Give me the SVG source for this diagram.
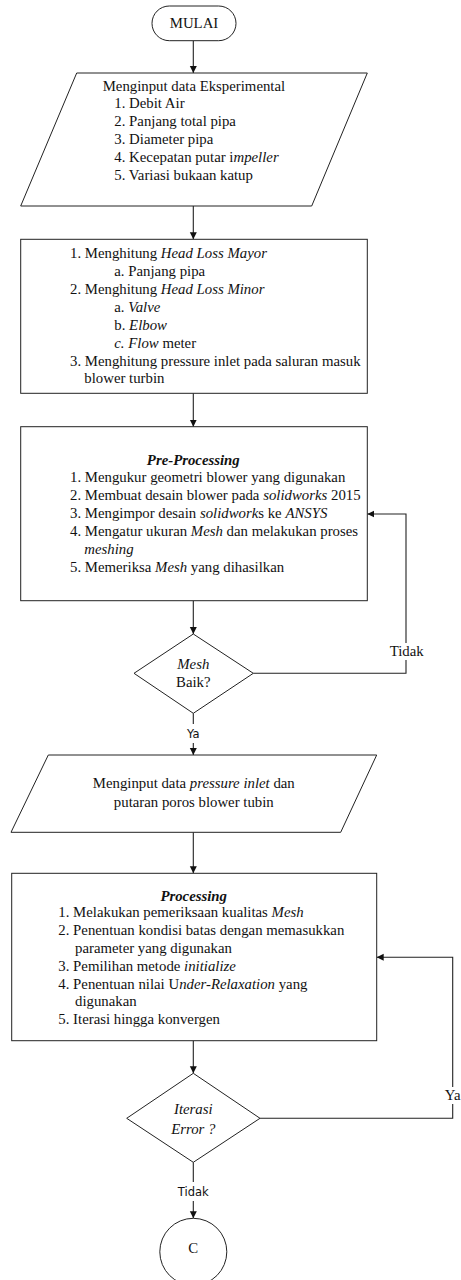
<svg xmlns="http://www.w3.org/2000/svg" width="461" height="1280" viewBox="0 0 461 1280">
<style>
.shape{fill:#fff;stroke:#222;stroke-width:1}
.conn{fill:none;stroke:#222;stroke-width:1.1}
.t{font-family:'Liberation Serif','DejaVu Serif',serif;font-size:14.8px;fill:#111}
.c{text-anchor:middle}
.i{font-style:italic}
.bi{font-style:italic;font-weight:bold}
.sans{font-family:'DejaVu Sans','Noto Sans',sans-serif;font-size:11.5px;fill:#111;text-anchor:middle}
.bg{fill:#fff;stroke:none}
</style>
<defs>
<marker id="arr" markerUnits="userSpaceOnUse" markerWidth="8" markerHeight="8" refX="7" refY="3.5" orient="auto">
<path d="M0,0 L7,3.5 L0,7 z" fill="#111"/>
</marker>
</defs>
<rect width="461" height="1280" fill="#fff"/>

<g id="connectors">
<line class="conn" x1="193.3" y1="40.7" x2="193.3" y2="73" marker-end="url(#arr)"/>
<line class="conn" x1="193.3" y1="206" x2="193.3" y2="239.3" marker-end="url(#arr)"/>
<line class="conn" x1="193.3" y1="393.3" x2="193.3" y2="426.7" marker-end="url(#arr)"/>
<line class="conn" x1="193.3" y1="600.7" x2="193.3" y2="634" marker-end="url(#arr)"/>
<line class="conn" x1="193.3" y1="713.3" x2="193.3" y2="755" marker-end="url(#arr)"/>
<path class="conn" d="M253.3,673.3 H406 V514 H367.3" marker-end="url(#arr)"/>
<line class="conn" x1="193.3" y1="832.3" x2="193.3" y2="873.3" marker-end="url(#arr)"/>
<line class="conn" x1="193.3" y1="1040.7" x2="193.3" y2="1073.3" marker-end="url(#arr)"/>
<path class="conn" d="M260,1118.3 H452.7 V957.3 H376.7" marker-end="url(#arr)"/>
<line class="conn" x1="193.3" y1="1162.3" x2="193.3" y2="1218.3" marker-end="url(#arr)"/>
<rect class="bg" x="185" y="724" width="17" height="19"/>
<text class="sans" x="193.3" y="738">Ya</text>
<rect class="bg" x="389" y="643" width="36" height="17"/>
<text class="t c" x="406.7" y="656">Tidak</text>
<rect class="bg" x="444" y="1087" width="17" height="17"/>
<text class="t c" x="452.7" y="1100">Ya</text>
<rect class="bg" x="177" y="1182" width="33" height="19"/>
<text class="sans" x="193.3" y="1196">Tidak</text>
</g>

<g id="mulai">
<rect class="shape" x="152" y="6" width="84" height="34.7" rx="17.3"/>
<text class="t c" x="194" y="27.7">MULAI</text>
</g>

<g id="input-eksperimental">
<polygon class="shape" points="76.7,73 367.3,73 311.7,206 20.7,206"/>
<text class="t" x="102.7" y="90.7">Menginput data Eksperimental</text>
<text class="t" x="114.3" y="108">1. Debit Air</text>
<text class="t" x="114.3" y="126">2. Panjang total pipa</text>
<text class="t" x="114.3" y="144">3. Diameter pipa</text>
<text class="t" x="114.3" y="162">4. Kecepatan putar i<tspan class="i">mpeller</tspan></text>
<text class="t" x="114.3" y="180">5. Variasi bukaan katup</text>
</g>

<g id="headloss">
<rect class="shape" x="20.7" y="239.3" width="346.6" height="154"/>
<text class="t" x="70" y="258.3">1. Menghitung <tspan class="i">Head Loss Mayor</tspan></text>
<text class="t" x="114.3" y="276">a. Panjang pipa</text>
<text class="t" x="70" y="294">2. Menghitung <tspan class="i">Head Loss Minor</tspan></text>
<text class="t" x="114.3" y="312">a. <tspan class="i">Valve</tspan></text>
<text class="t" x="114.3" y="329.5">b. <tspan class="i">Elbow</tspan></text>
<text class="t i" x="114.3" y="347.7">c. Flow <tspan font-style="normal">meter</tspan></text>
<text class="t" x="70" y="365.7">3. Menghitung pressure inlet pada saluran masuk</text>
<text class="t" x="84.3" y="383.3">blower turbin</text>
</g>

<g id="pre-processing">
<rect class="shape" x="20.7" y="426.7" width="346.6" height="174"/>
<text class="t c bi" x="193.3" y="465">Pre-Processing</text>
<text class="t" x="70" y="482.3">1. Mengukur geometri blower yang digunakan</text>
<text class="t" x="70" y="500">2. Membuat desain blower pada <tspan class="i">solidworks</tspan> 2015</text>
<text class="t" x="70" y="518">3. Mengimpor desain <tspan class="i">solidwork</tspan>s ke <tspan class="i">ANSYS</tspan></text>
<text class="t" x="70" y="536">4. Mengatur ukuran <tspan class="i">Mesh</tspan> dan melakukan proses</text>
<text class="t i" x="84.3" y="553.5">meshing</text>
<text class="t" x="70" y="571.7">5. Memeriksa <tspan class="i">Mesh</tspan> yang dihasilkan</text>
</g>

<g id="mesh-baik">
<polygon class="shape" points="193.3,634 253.3,673.3 193.3,713.3 134,673.3"/>
<text class="t c i" x="193.3" y="669.3">Mesh</text>
<text class="t c" x="193.3" y="686.7">Baik?</text>
</g>

<g id="input-pressure">
<polygon class="shape" points="48.3,755 376.7,755 340.7,832.3 11,832.3"/>
<text class="t c" x="193.8" y="788.3">Menginput data <tspan class="i">pressure inlet</tspan> dan</text>
<text class="t c" x="193.8" y="807.3">putaran poros blower tubin</text>
</g>

<g id="processing">
<rect class="shape" x="11.7" y="873.3" width="365" height="167.4"/>
<text class="t c bi" x="193.7" y="901">Processing</text>
<text class="t" x="58.3" y="917.3">1. Melakukan pemeriksaan kualitas <tspan class="i">Mesh</tspan></text>
<text class="t" x="58.3" y="935">2. Penentuan kondisi batas dengan memasukkan</text>
<text class="t" x="75" y="952.7">parameter yang digunakan</text>
<text class="t" x="58.3" y="970.7">3. Pemilihan metode <tspan class="i">initialize</tspan></text>
<text class="t" x="58.3" y="988.7">4. Penentuan nilai U<tspan class="i">nder-Relaxation</tspan> yang</text>
<text class="t" x="75" y="1006">digunakan</text>
<text class="t" x="58.3" y="1024">5. Iterasi hingga konvergen</text>
</g>

<g id="iterasi-error">
<polygon class="shape" points="193.3,1073.3 260,1118.3 193.3,1162.3 126.7,1118.3"/>
<text class="t c i" x="193.3" y="1114">Iterasi</text>
<text class="t c i" x="193.3" y="1134">Error ?</text>
</g>

<g id="connector-c">
<circle class="shape" cx="193.3" cy="1251.8" r="33.5"/>
<text class="t c" x="193.3" y="1253.3">C</text>
</g>
</svg>
